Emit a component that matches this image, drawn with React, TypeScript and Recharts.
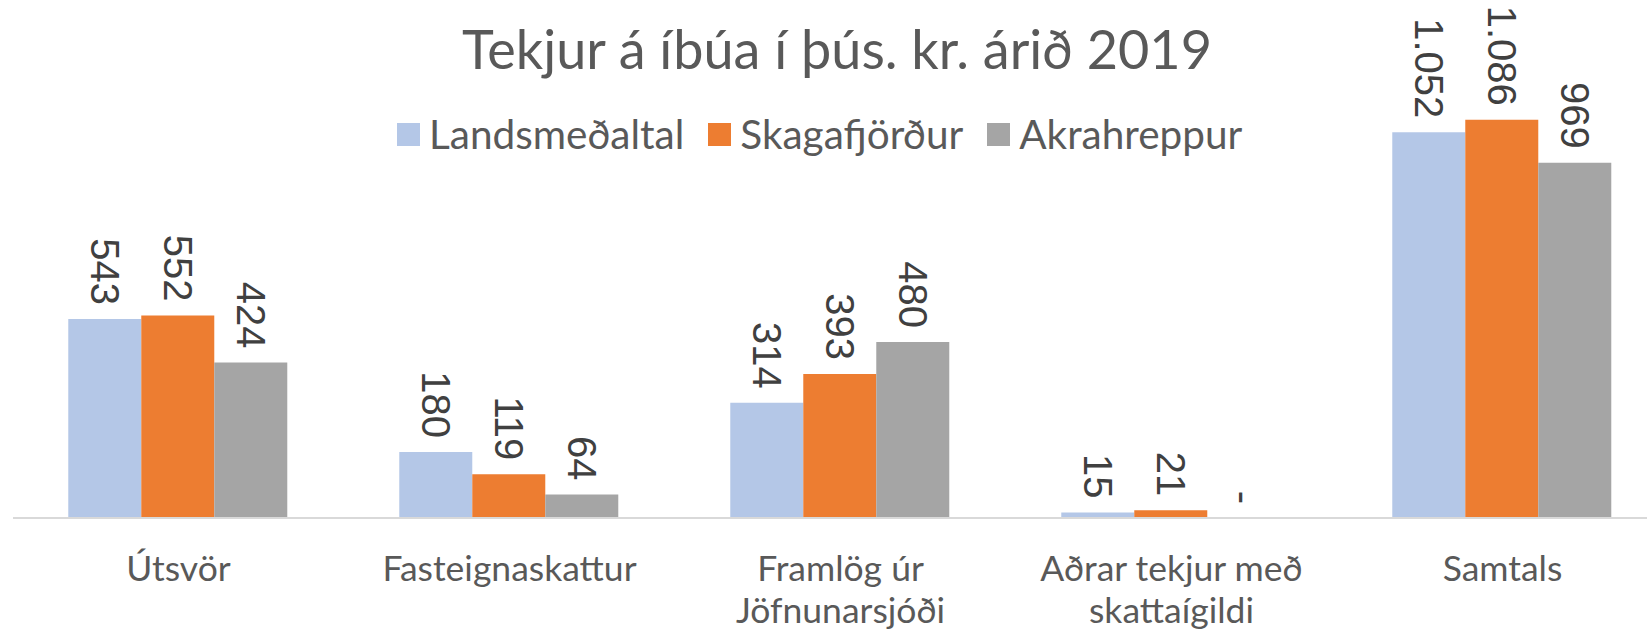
import { BarChart, Bar, XAxis, YAxis, LabelList } from "recharts";

const categories = [
  "Útsvör",
  "Fasteignaskattur",
  "Framlög úr\nJöfnunarsjóði",
  "Aðrar tekjur með\nskattaígildi",
  "Samtals",
];
const landsmedaltal = [543, 180, 314, 15, 1052];
const skagafjordur = [552, 119, 393, 21, 1086];
const akrahreppur = [424, 64, 480, 0, 969];

const series = [
  { key: "landsmedaltal", name: "Landsmeðaltal", color: "#B4C7E7" },
  { key: "skagafjordur", name: "Skagafjörður", color: "#ED7D31" },
  { key: "akrahreppur", name: "Akrahreppur", color: "#A5A5A5" },
];

const data = categories.map((c, i) => ({
  name: c,
  landsmedaltal: landsmedaltal[i],
  skagafjordur: skagafjordur[i],
  akrahreppur: akrahreppur[i],
}));

const TEXT_FONT = "Lato, 'Open Sans', sans-serif";

// icelandic style: 1.052, and "-" for zero
const fmt = (v: number) =>
  Number(v) === 0 ? "-" : String(v).replace(/\B(?=(\d{3})+(?!\d))/g, ".");

const ValueLabel = (props: any) => {
  const { x, y, width, value } = props;
  const cx = x + width / 2;
  const ty = y - 14;
  return (
    <text
      x={cx}
      y={ty}
      transform={`rotate(90, ${cx}, ${ty})`}
      textAnchor="end"
      dominantBaseline="central"
      fill="#404040"
      fontSize={40}
      fontFamily="'Liberation Sans', Arial, sans-serif"
    >
      {fmt(value)}
    </text>
  );
};

const CategoryTick = (props: any) => {
  const { x, y, payload } = props;
  const lines = String(payload.value).split("\n");
  return (
    <g>
      {lines.map((l, i) => (
        <text
          key={i}
          x={x}
          y={y + 41 + i * 42}
          textAnchor="middle"
          dominantBaseline="central"
          fill="#595959"
          fontSize={35.5}
          fontFamily={TEXT_FONT}
        >
          {l}
        </text>
      ))}
    </g>
  );
};

export default function App() {
  return (
    <div
      style={{
        position: "fixed",
        top: 0,
        left: 0,
        width: 1647,
        height: 629,
        overflow: "hidden",
        background: "#fff",
      }}
    >
      <div
        style={{
          position: "absolute",
          top: 14,
          left: 462,
          width: 746,
          textAlign: "center",
          fontFamily: TEXT_FONT,
          fontSize: 54,
          color: "#595959",
          whiteSpace: "nowrap",
          lineHeight: "70px",
        }}
      >
        Tekjur á íbúa í þús. kr. árið 2019
      </div>
      <div
        style={{
          position: "absolute",
          top: 112,
          left: 397,
          display: "flex",
          alignItems: "center",
          fontFamily: TEXT_FONT,
          fontSize: 40.5,
          color: "#595959",
          whiteSpace: "nowrap",
          lineHeight: "44px",
        }}
      >
        {series.map((s) => (
          <div key={s.key} style={{ display: "flex", alignItems: "center", marginRight: 24 }}>
            <span style={{ width: 23, height: 23, background: s.color, marginRight: 9 }} />
            <span>{s.name}</span>
          </div>
        ))}
      </div>
      <div style={{ position: "absolute", top: 0, left: 0 }}>
        <BarChart
          width={1668}
          height={629}
          data={data}
          margin={{ top: 78, right: 0, bottom: 11, left: 13 }}
          barCategoryGap="16.7%"
          barGap={0}
        >
          <XAxis
            dataKey="name"
            height={100}
            axisLine={{ stroke: "#D9D9D9", strokeWidth: 2 }}
            tickLine={false}
            tick={<CategoryTick />}
            interval={0}
          />
          <YAxis hide domain={[0, 1200]} />
          {series.map((s) => (
            <Bar
              key={s.key}
              dataKey={s.key}
              name={s.name}
              fill={s.color}
              minPointSize={(v: number) => (v === 0 ? 0.01 : 0)}
              isAnimationActive={false}
            >
              <LabelList dataKey={s.key} content={<ValueLabel />} />
            </Bar>
          ))}
        </BarChart>
      </div>
    </div>
  );
}
